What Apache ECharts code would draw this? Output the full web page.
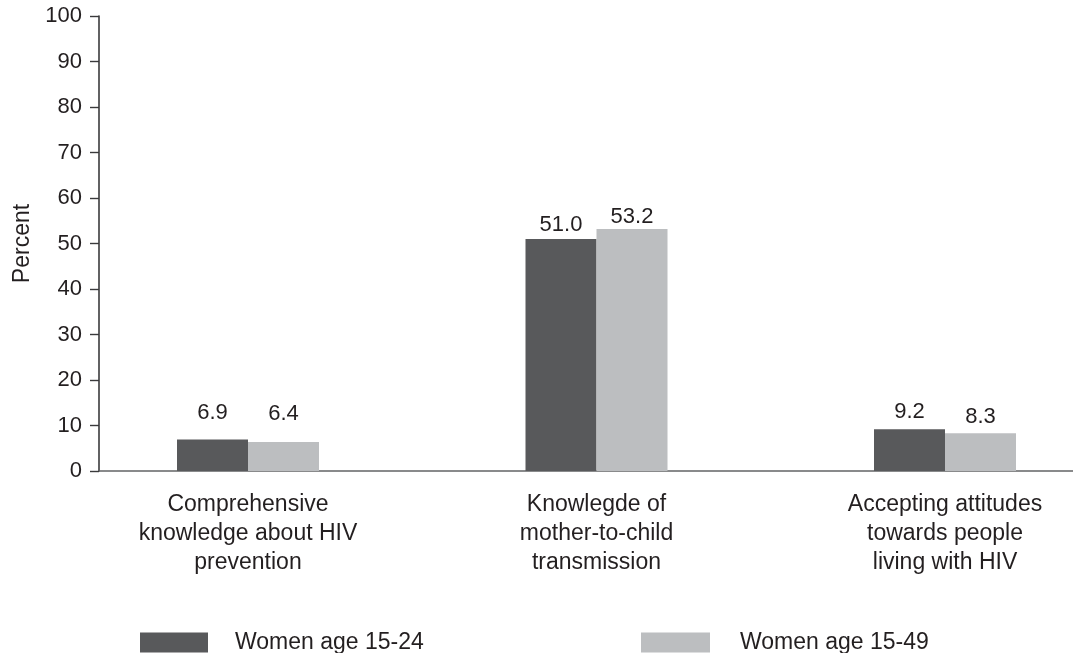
<!DOCTYPE html>
<html>
<head>
<meta charset="utf-8">
<title>HIV knowledge and attitudes</title>
<script src="https://cdn.jsdelivr.net/npm/echarts@6/dist/echarts.min.js"></script>
<style>
  html, body { margin: 0; padding: 0; background: #fff; }
  #chart { width: 1073px; height: 653px; }
</style>
</head>
<body>
<div id="chart"></div>
<script>
// categories (x axis labels)
var categories = [
    'Comprehensive\nknowledge about HIV\nprevention',
    'Knowlegde of\nmother-to-child\ntransmission',
    'Accepting attitudes\ntowards people\nliving with HIV'
];

// series values (percent)
var women1524 = [6.9, 51.0, 9.2];
var women1549 = [6.4, 53.2, 8.3];

// y axis ticks
var yTicks = [0, 10, 20, 30, 40, 50, 60, 70, 80, 90, 100];

// gap between bar top and its value label, as in the source picture
var liftDark = [16, 3, 6];
var liftLight = [17, 1, 5];

var textColor = '#231f20';
var fontFamily = '"Liberation Sans", Arial, Helvetica, sans-serif';

function withLabels(values, lifts) {
    return values.map(function (v, i) {
        return { value: v, label: { distance: lifts[i] } };
    });
}

var myChart = echarts.init(document.getElementById('chart'));

var valueLabel = {
    show: true, position: 'top', fontSize: 22, color: textColor, fontFamily: fontFamily,
    formatter: function (p) { return p.value.toFixed(1); }
};

var option = {
    animation: false,
    textStyle: { fontFamily: fontFamily },
    grid: [
        // axes frame
        { left: 99, right: 0, top: 16, bottom: 182 },
        // bars: category points sit on the grid edges (boundaryGap false)
        { left: 248, right: 128, top: 16, bottom: 182 }
    ],
    legend: [
        {
            left: 140, top: 631, padding: 0,
            itemWidth: 68, itemHeight: 20,
            icon: 'rect',
            data: ['Women age 15-24'],
            textStyle: { fontSize: 23, color: textColor, lineHeight: 20, padding: [0, 0, 0, 22], fontFamily: fontFamily }
        },
        {
            left: 641, top: 631, padding: 0,
            itemWidth: 69, itemHeight: 20,
            icon: 'rect',
            data: ['Women age 15-49'],
            textStyle: { fontSize: 23, color: textColor, lineHeight: 20, padding: [0, 0, 0, 25], fontFamily: fontFamily }
        }
    ],
    xAxis: [
        {
            gridIndex: 0, type: 'value', min: 0, max: 1,
            axisLine: { show: true, lineStyle: { color: '#636466', width: 1.5 } },
            axisTick: { show: false },
            axisLabel: { show: false },
            splitLine: { show: false }
        },
        {
            gridIndex: 1, type: 'category', data: categories,
            boundaryGap: false,
            axisLine: { show: false },
            axisTick: { show: false },
            axisLabel: {
                interval: 0, fontSize: 23, lineHeight: 29, margin: 19,
                color: textColor, fontFamily: fontFamily
            }
        }
    ],
    yAxis: [
        {
            gridIndex: 0, type: 'value',
            min: yTicks[0], max: yTicks[yTicks.length - 1], interval: yTicks[1] - yTicks[0],
            name: 'Percent', nameLocation: 'middle', nameGap: 64,
            nameTextStyle: { fontSize: 23, color: textColor, fontFamily: fontFamily },
            axisLine: { show: true, lineStyle: { color: '#3a3a3c', width: 1.6 } },
            axisTick: { show: true, length: 9, lineStyle: { color: '#3a3a3c', width: 1.4 } },
            axisLabel: { fontSize: 22, margin: 17, color: textColor, fontFamily: fontFamily },
            splitLine: { show: false }
        },
        {
            gridIndex: 1, type: 'value', min: 0, max: 100, show: false
        }
    ],
    series: [
        {
            name: 'Women age 15-24',
            type: 'bar',
            xAxisIndex: 1, yAxisIndex: 1,
            barWidth: 71,
            barGap: '0%',
            clip: false,
            itemStyle: { color: '#58595b' },
            label: valueLabel,
            data: withLabels(women1524, liftDark)
        },
        {
            name: 'Women age 15-49',
            type: 'bar',
            xAxisIndex: 1, yAxisIndex: 1,
            barWidth: 71,
            barGap: '0%',
            clip: false,
            itemStyle: { color: '#bcbec0' },
            label: valueLabel,
            data: withLabels(women1549, liftLight)
        }
    ]
};

myChart.setOption(option);
</script>
</body>
</html>
